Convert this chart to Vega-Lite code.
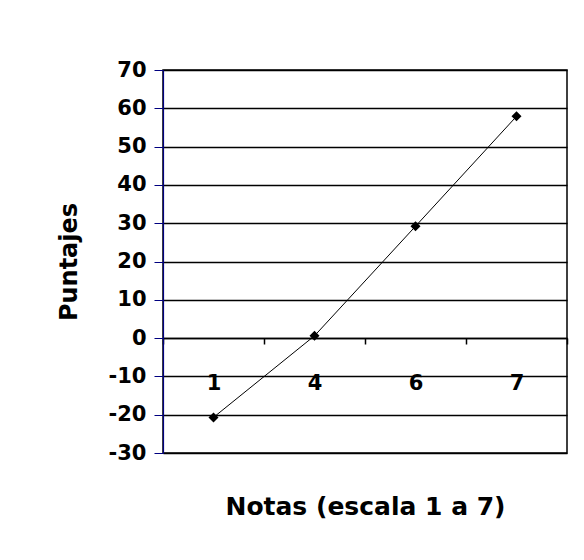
{
  "$schema": "https://vega.github.io/schema/vega-lite/v6.json",
  "width": 404,
  "height": 383,
  "autosize": {"type": "none"},
  "padding": {"left": 163, "top": 70, "right": 17, "bottom": 107},
  "background": "white",
  "data": {
    "values": [
      {"nota": "1", "puntaje": -20.7},
      {"nota": "4", "puntaje": 0.6},
      {"nota": "6", "puntaje": 29.2},
      {"nota": "7", "puntaje": 57.9}
    ]
  },
  "encoding": {
    "x": {
      "field": "nota",
      "type": "ordinal",
      "sort": null,
      "scale": {"type": "band", "paddingInner": 0, "paddingOuter": 0},
      "axis": {
        "orient": "bottom",
        "offset": -115,
        "title": "Notas (escala 1 a 7)",
        "labelAngle": 0,
        "tickBand": "extent",
        "tickSize": 6,
        "tickColor": "black",
        "tickWidth": 1.5,
        "domainColor": "black",
        "domainWidth": 1.5,
        "grid": false,
        "labelFont": "DejaVu Sans",
        "labelFontWeight": "bold",
        "labelFontSize": 21,
        "labelColor": "black",
        "labelPadding": 28,
        "titleFont": "DejaVu Sans",
        "titleFontWeight": "bold",
        "titleFontSize": 25,
        "titleColor": "black",
        "titlePadding": 101
      }
    },
    "y": {
      "field": "puntaje",
      "type": "quantitative",
      "scale": {"domain": [-30, 70], "nice": false, "zero": false},
      "axis": {
        "values": [-30, -20, -10, 0, 10, 20, 30, 40, 50, 60, 70],
        "title": "Puntajes",
        "grid": true,
        "gridColor": "black",
        "gridWidth": 1.5,
        "gridOpacity": 1,
        "domainColor": "#000080",
        "domainWidth": 1.2,
        "tickColor": "#000080",
        "tickSize": 9,
        "tickWidth": 1,
        "labelFont": "DejaVu Sans",
        "labelFontWeight": "bold",
        "labelFontSize": 21,
        "labelColor": "black",
        "labelPadding": 8,
        "labelExpr": "'' + datum.value",
        "titleFont": "DejaVu Sans",
        "titleFontWeight": "bold",
        "titleFontSize": 24,
        "titleColor": "black",
        "titlePadding": 27
      }
    }
  },
  "layer": [
    {"mark": {"type": "line", "color": "black", "strokeWidth": 1}},
    {"mark": {"type": "point", "shape": "diamond", "filled": true, "color": "black", "size": 100, "opacity": 1}}
  ],
  "config": {
    "view": {"stroke": "black", "strokeWidth": 1.5}
  }
}
